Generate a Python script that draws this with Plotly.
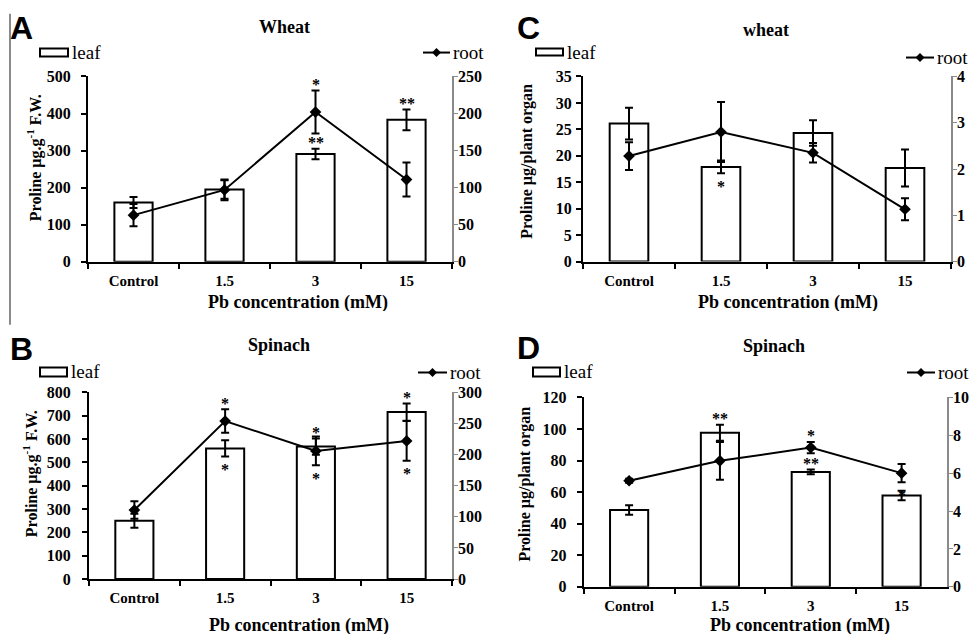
import plotly.graph_objects as go

W, H = 976, 636
# measured vertical mapping of the capture: shown_y = V_OFF + V_SCALE * figure_y
V_OFF, V_SCALE = 7.3, 0.9765

categories = ["Control", "1.5", "3", "15"]

# Panel A - wheat, proline ug g-1 F.W.
A_leaf = [160, 195, 291, 383]
A_leaf_err = [15, 25, 14, 28]
A_root = [63, 97, 202, 111]
A_root_err = [15, 14, 29, 23]
A_leaf_up = ["", "", "**", "**"]
A_leaf_dn = ["", "", "", ""]
A_root_up = ["", "", "*", ""]
A_root_dn = ["", "", "", ""]

# Panel B - spinach, proline ug g-1 F.W.
B_leaf = [250, 560, 568, 716]
B_leaf_err = [30, 35, 35, 37]
B_root = [111, 254, 206, 222]
B_root_err = [14, 19, 23, 32]
B_leaf_up = ["", "", "*", "*"]
B_leaf_dn = ["", "*", "", ""]
B_root_up = ["", "*", "", ""]
B_root_dn = ["", "", "*", "*"]

# Panel C - wheat, proline ug / plant organ
C_leaf = [26.1, 17.9, 24.3, 17.7]
C_leaf_err = [3.0, 1.2, 2.4, 3.5]
C_root = [2.28, 2.80, 2.35, 1.13]
C_root_err = [0.30, 0.65, 0.21, 0.24]
C_leaf_up = ["", "", "", ""]
C_leaf_dn = ["", "*", "", ""]
C_root_up = ["", "", "", ""]
C_root_dn = ["", "", "", ""]

# Panel D - spinach, proline ug / plant organ
D_leaf = [48.7, 97.6, 72.8, 57.8]
D_leaf_err = [3.0, 5.0, 1.5, 3.0]
D_root = [5.6, 6.65, 7.35, 6.0]
D_root_err = [0.1, 1.0, 0.3, 0.48]
D_leaf_up = ["", "**", "**", ""]
D_leaf_dn = ["", "", "", ""]
D_root_up = ["", "", "*", ""]
D_root_dn = ["", "", "", "*"]

A_left_range, A_right_range = [0, 500], [0, 250]
B_left_range, B_right_range = [0, 800], [0, 300]
C_left_range, C_right_range = [0, 35], [0, 4]
D_left_range, D_right_range = [0, 120], [0, 10]
A_left_dtick, A_right_dtick = 100, 50
B_left_dtick, B_right_dtick = 100, 50
C_left_dtick, C_right_dtick = 5, 1
D_left_dtick, D_right_dtick = 20, 2

SERIF = "Liberation Serif"
SANS = "Liberation Sans"


def px(x):
    return x / W


def py(y):
    return 1 - ((y - V_OFF) / V_SCALE) / H


panels = [
    dict(letter="A", title="Wheat", ytitle="Proline µg.g<sup>-1</sup> F.W.",
         leaf=A_leaf, leaf_err=A_leaf_err, root=A_root, root_err=A_root_err,
         leaf_up=A_leaf_up, leaf_dn=A_leaf_dn, root_up=A_root_up, root_dn=A_root_dn,
         lr=A_left_range, rr=A_right_range, ld=A_left_dtick, rd=A_right_dtick,
         xd=(88, 452), yd=(76, 262), lstand=7,
         letter_xy=(21.5, 27), title_xy=(284, 26), ytitle_xy=(34, 158), xtitle_xy=(298, 302),
         leaf_leg=(40, 68, 48, 56), root_leg=(423, 450, 52)),
    dict(letter="C", title="wheat", ytitle="Proline µg/plant organ",
         leaf=C_leaf, leaf_err=C_leaf_err, root=C_root, root_err=C_root_err,
         leaf_up=C_leaf_up, leaf_dn=C_leaf_dn, root_up=C_root_up, root_dn=C_root_dn,
         lr=C_left_range, rr=C_right_range, ld=C_left_dtick, rd=C_right_dtick,
         xd=(583, 951), yd=(76, 261.7), lstand=1,
         letter_xy=(528, 27), title_xy=(766, 29), ytitle_xy=(527, 161.5), xtitle_xy=(787.5, 302),
         leaf_leg=(536, 563, 48, 55), root_leg=(906, 934, 57)),
    dict(letter="B", title="Spinach", ytitle="Proline µg.g<sup>-1</sup> F.W.",
         leaf=B_leaf, leaf_err=B_leaf_err, root=B_root, root_err=B_root_err,
         leaf_up=B_leaf_up, leaf_dn=B_leaf_dn, root_up=B_root_up, root_dn=B_root_dn,
         lr=B_left_range, rr=B_right_range, ld=B_left_dtick, rd=B_right_dtick,
         xd=(89, 452), yd=(393, 580.3), lstand=8,
         letter_xy=(21.5, 349), title_xy=(279, 345), ytitle_xy=(30, 475), xtitle_xy=(298.7, 626),
         leaf_leg=(40, 67, 368, 377), root_leg=(418, 447, 373)),
    dict(letter="D", title="Spinach", ytitle="Proline µg/plant organ",
         leaf=D_leaf, leaf_err=D_leaf_err, root=D_root, root_err=D_root_err,
         leaf_up=D_leaf_up, leaf_dn=D_leaf_dn, root_up=D_root_up, root_dn=D_root_dn,
         lr=D_left_range, rr=D_right_range, ld=D_left_dtick, rd=D_right_dtick,
         xd=(583.7, 947), yd=(398, 588), lstand=7,
         letter_xy=(528, 348), title_xy=(774, 346), ytitle_xy=(525, 485.5), xtitle_xy=(799.7, 626),
         leaf_leg=(533, 560, 368, 377), root_leg=(907, 935, 373)),
]

fig = go.Figure()
annotations = []
shapes = []
layout_axes = {}

xtickfont = dict(family=SERIF, size=15, color="black", weight="bold")
ytickfont = dict(family=SERIF, size=16, color="black", weight="bold")

for i, p in enumerate(panels):
    xi = i + 1
    yl = 2 * i + 1
    yr = 2 * i + 2
    xname = "x" if xi == 1 else f"x{xi}"
    ylname = "y" if yl == 1 else f"y{yl}"
    yrname = f"y{yr}"

    fig.add_trace(go.Bar(
        x=categories, y=p["leaf"], xaxis=xname, yaxis=ylname,
        marker=dict(color="white", line=dict(color="black", width=2)),
        error_y=dict(type="data", array=p["leaf_err"], color="black", thickness=2, width=4),
        showlegend=False, name="leaf"))
    fig.add_trace(go.Scatter(
        x=categories, y=p["root"], xaxis=xname, yaxis=yrname, mode="lines+markers",
        line=dict(color="black", width=2),
        marker=dict(symbol="diamond", size=9, color="black"),
        error_y=dict(type="data", array=p["root_err"], color="black", thickness=2, width=4),
        showlegend=False, name="root"))

    xk = "xaxis" if xi == 1 else f"xaxis{xi}"
    ylk = "yaxis" if yl == 1 else f"yaxis{yl}"
    yrk = f"yaxis{yr}"
    layout_axes[xk] = dict(
        domain=[px(p["xd"][0]), px(p["xd"][1])], anchor=ylname, type="category",
        categoryorder="array", categoryarray=categories, range=[-0.5, len(categories) - 0.5],
        showline=True, linecolor="black", linewidth=2, ticks="outside", tickson="boundaries",
        ticklen=5, tickwidth=1.5, tickcolor="black", showgrid=False, zeroline=False,
        tickfont=xtickfont, ticklabelstandoff=4, tickangle=0)
    layout_axes[ylk] = dict(
        domain=[py(p["yd"][1]), py(p["yd"][0])], anchor=xname, range=p["lr"], dtick=p["ld"],
        tick0=0, showline=True, linecolor="black", linewidth=2, ticks="outside", ticklen=5,
        tickwidth=1.5, tickcolor="black", showgrid=False, zeroline=False, tickfont=ytickfont,
        ticklabelstandoff=p["lstand"], ticklabeloverflow="allow")
    layout_axes[yrk] = dict(
        overlaying=ylname, side="right", anchor=xname, range=p["rr"], dtick=p["rd"], tick0=0,
        showline=True, linecolor="#8a8a8a", linewidth=1.5, ticks="outside", ticklen=4,
        tickwidth=1.2, tickcolor="#8a8a8a", showgrid=False, zeroline=False, tickfont=ytickfont,
        ticklabelstandoff=-3, ticklabeloverflow="allow")

    # significance marks from data (x given as category index)
    for j in range(len(categories)):
        for txt, val, err, yref, up in [
            (p["leaf_up"][j], p["leaf"][j], p["leaf_err"][j], ylname, True),
            (p["leaf_dn"][j], p["leaf"][j], p["leaf_err"][j], ylname, False),
            (p["root_up"][j], p["root"][j], p["root_err"][j], yrname, True),
            (p["root_dn"][j], p["root"][j], p["root_err"][j], yrname, False),
        ]:
            if not txt:
                continue
            annotations.append(dict(
                x=j, y=val + err if up else val - err, xref=xname, yref=yref,
                text=txt, showarrow=False, yanchor="middle", xanchor="center",
                yshift=6 if up else -13,
                font=dict(family=SERIF, size=16, color="black", weight="bold")))

    # texts
    lx, ly = p["letter_xy"]
    annotations.append(dict(x=px(lx), y=py(ly), xref="paper", yref="paper", text=p["letter"],
                            showarrow=False, xanchor="center", yanchor="middle",
                            font=dict(family=SANS, size=32, color="black", weight="bold")))
    tx, ty = p["title_xy"]
    annotations.append(dict(x=px(tx), y=py(ty), xref="paper", yref="paper", text=p["title"],
                            showarrow=False, xanchor="center", yanchor="middle",
                            font=dict(family=SERIF, size=18, color="black", weight="bold")))
    ax_, ay_ = p["ytitle_xy"]
    annotations.append(dict(x=px(ax_), y=py(ay_), xref="paper", yref="paper", text=p["ytitle"],
                            showarrow=False, xanchor="center", yanchor="middle", textangle=-90,
                            font=dict(family=SERIF, size=16, color="black", weight="bold")))
    bx, by = p["xtitle_xy"]
    annotations.append(dict(x=px(bx), y=py(by), xref="paper", yref="paper",
                            text="Pb concentration (mM)", height=18,
                            showarrow=False, xanchor="center", yanchor="middle",
                            font=dict(family=SERIF, size=18, color="black", weight="bold")))

    # legend (leaf)
    x0, x1, y0, y1 = p["leaf_leg"]
    shapes.append(dict(type="rect", xref="paper", yref="paper", x0=px(x0), x1=px(x1),
                       y0=py(y1), y1=py(y0), line=dict(color="black", width=2),
                       fillcolor="white"))
    annotations.append(dict(x=px(x1 + 2), y=py((y0 + y1) / 2), xref="paper", yref="paper",
                            text="leaf", showarrow=False, xanchor="left", yanchor="middle",
                            font=dict(family=SERIF, size=19, color="black")))
    # legend (root)
    r0, r1, ry = p["root_leg"]
    shapes.append(dict(type="line", xref="paper", yref="paper", x0=px(r0), x1=px(r1),
                       y0=py(ry), y1=py(ry), line=dict(color="black", width=2)))
    cx = (r0 + r1) / 2
    shapes.append(dict(type="path", xref="paper", yref="paper",
                       path=f"M {px(cx-4.5)},{py(ry)} L {px(cx)},{py(ry-4.5)} "
                            f"L {px(cx+4.5)},{py(ry)} L {px(cx)},{py(ry+4.5)} Z",
                       fillcolor="black", line=dict(color="black", width=0)))
    annotations.append(dict(x=px(r1 + 1), y=py(ry), xref="paper", yref="paper",
                            text="root", showarrow=False, xanchor="left", yanchor="middle",
                            font=dict(family=SERIF, size=19, color="black")))

# stray frame line at far left
shapes.append(dict(type="line", xref="paper", yref="paper", x0=px(10), x1=px(10),
                   y0=py(13), y1=py(325), line=dict(color="#8a8a8a", width=2)))

fig.update_layout(
    width=W, height=H, autosize=False,
    margin=dict(l=0, r=0, t=0, b=0),
    paper_bgcolor="white", plot_bgcolor="white",
    bargap=0.58, showlegend=False,
    annotations=annotations, shapes=shapes,
    **layout_axes)

pin_script = (
    "var gd=document.getElementById('{plot_id}');"
    "var wrap=gd.parentElement;"
    "wrap.style.position='fixed';wrap.style.top='0px';wrap.style.left='0px';"
    "document.body.style.margin='0px';"
    "document.documentElement.style.overflow='hidden';"
)

fig.write_html("out.html", config={"displayModeBar": False}, post_script=pin_script)
